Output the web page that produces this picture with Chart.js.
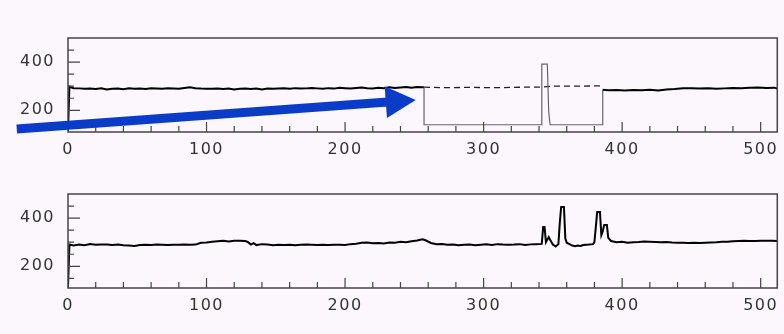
<!DOCTYPE html>
<html>
<head>
<meta charset="utf-8">
<script src="https://cdn.jsdelivr.net/npm/chart.js@4.4.1/dist/chart.umd.min.js"></script>
<style>
  html, body { margin: 0; padding: 0; background: #fcf7fc; }
  .panel { position: absolute; left: 0; width: 784px; height: 167px; }
</style>
</head>
<body>
<div class="panel" style="top:0"><canvas id="grafico_cima" width="784" height="167"></canvas></div>
<div class="panel" style="top:167px"><canvas id="grafico_baixo" width="784" height="167"></canvas></div>
<script>
// eixo x: canais 0..512, eixo y: contagens
const xTicks = [0, 100, 200, 300, 400, 500];
const yTicks = [200, 400];

// painel de cima - sinal com o "buraco" entre 257 e 386
const topX = [0, 1, 4, 8, 12, 16, 20, 24, 28, 32, 36, 40, 44, 48, 52, 56, 60, 64, 68, 72, 76, 80, 84, 88, 92, 96,
  100, 104, 108, 112, 116, 120, 124, 128, 132, 136, 140, 144, 148, 152, 156, 160, 164, 168, 172, 176, 180, 184, 188, 192, 196,
  200, 204, 208, 212, 216, 220, 224, 228, 232, 236, 240, 244, 248, 252, 256, 257, 257, 300, 342, 342, 346, 347, 348, 386, 386,
  390, 396, 402, 408, 414, 420, 426, 432, 438, 444, 450, 456, 462, 468, 474, 480, 486, 492, 498, 504, 510, 512];
const topY = [112, 298, 292, 291, 289, 290, 288, 291, 286, 289, 290, 287, 291, 289, 290, 288, 291, 290, 289, 291, 290, 289, 293, 296, 292, 290,
  289, 289, 290, 288, 290, 286, 289, 290, 288, 290, 286, 290, 289, 290, 291, 289, 292, 290, 291, 293, 291, 289, 292, 290, 294,
  292, 290, 293, 295, 292, 291, 294, 292, 296, 293, 295, 297, 294, 297, 296, 296, 140, 140, 140, 392, 392, 195, 140, 140, 285,
  283, 284, 282, 284, 283, 285, 282, 286, 288, 292, 291, 290, 292, 289, 291, 293, 292, 294, 295, 293, 294, 290];

// linha tracejada (nivel esperado) dentro do buraco
const gapX = [257, 270, 290, 310, 330, 342, 350, 370, 386];
const gapY = [296, 294, 295, 294, 296, 296, 300, 300, 302];

// painel de baixo - sinal completo com os picos
const botX = [0, 1, 4, 8, 12, 16, 20, 24, 28, 32, 36, 40, 44, 48, 52, 56, 60, 64, 68, 72, 76, 80, 84, 88, 92, 96,
  100, 104, 108, 112, 116, 120, 124, 128, 130, 132, 134, 136, 140, 144, 148, 152, 156, 160, 164, 168, 172, 176, 180, 184, 188, 192, 196,
  200, 204, 208, 212, 216, 220, 224, 228, 232, 236, 240, 244, 248, 252, 256, 258, 262, 266, 270, 274, 278, 282, 286, 290, 294, 298,
  302, 306, 310, 314, 318, 322, 326, 330, 334, 338, 342, 343, 344, 345, 347, 348, 350, 352, 354, 355, 356, 358, 359, 360, 362, 364, 366, 368, 370,
  372, 376, 379, 380, 382, 384, 385, 386, 387, 389, 390, 392, 396, 400, 404, 408, 412, 416, 420, 424, 428, 432, 436, 440, 444, 448,
  452, 456, 460, 464, 468, 472, 476, 480, 484, 488, 492, 496, 500, 504, 508, 512];
const botY = [112, 290, 286, 290, 287, 292, 289, 290, 290, 288, 290, 287, 286, 284, 288, 289, 288, 290, 289, 288, 289, 289, 290, 289, 290, 298,
  299, 302, 304, 306, 303, 306, 306, 305, 300, 290, 296, 288, 292, 290, 287, 289, 288, 289, 287, 289, 290, 289, 288, 289, 288, 289, 289,
  288, 292, 294, 298, 299, 296, 297, 295, 299, 298, 302, 300, 304, 307, 312, 308, 297, 292, 293, 289, 290, 287, 289, 290, 287, 289,
  291, 288, 292, 290, 289, 290, 292, 288, 291, 292, 293, 363, 363, 300, 321, 310, 290, 282, 292, 380, 446, 446, 315, 298, 292, 286, 283, 286, 284,
  288, 290, 292, 300, 425, 425, 330, 345, 371, 371, 318, 305, 300, 302, 298, 300, 301, 303, 302, 301, 300, 301, 299, 298, 298, 297,
  298, 297, 298, 299, 300, 302, 302, 304, 305, 306, 305, 305, 306, 306, 306, 305];

const pontos = (xs, ys) => xs.map((x, i) => ({ x: x, y: ys[i] }));

// moldura + tracinhos para dentro, como no grafico original
const moldura = {
  id: 'moldura',
  beforeDraw(chart) {
    chart.ctx.letterSpacing = '1.5px';
  },
  afterDraw(chart) {
    const { ctx, chartArea: a, scales } = chart;
    ctx.save();
    ctx.letterSpacing = '0px';
    ctx.strokeStyle = '#444';
    ctx.lineWidth = 1.5;
    ctx.strokeRect(a.left, a.top, a.right - a.left, a.bottom - a.top);
    ctx.lineWidth = 1.2;
    ctx.beginPath();
    for (let v = 20; v <= 500; v += 20) {
      const px = scales.x.getPixelForValue(v);
      const len = v % 100 === 0 ? 10 : 6;
      ctx.moveTo(px, a.bottom);
      ctx.lineTo(px, a.bottom - len);
    }
    for (let v = 150; v <= 450; v += 50) {
      const py = scales.y.getPixelForValue(v);
      const len = v % 200 === 0 ? 12 : 6;
      ctx.moveTo(a.left, py);
      ctx.lineTo(a.left + len, py);
    }
    ctx.stroke();

    // seta azul (so no painel de cima)
    const seta = chart.options.plugins.moldura.seta;
    if (seta) {
      const x0 = scales.x.getPixelForValue(seta.de[0]), y0 = scales.y.getPixelForValue(seta.de[1]);
      const x1 = scales.x.getPixelForValue(seta.para[0]), y1 = scales.y.getPixelForValue(seta.para[1]);
      const ang = Math.atan2(y1 - y0, x1 - x0);
      const cab = 30, meia = 16;
      const bx = x1 - cab * Math.cos(ang), by = y1 - cab * Math.sin(ang);
      ctx.strokeStyle = '#0a3cc8';
      ctx.fillStyle = '#0a3cc8';
      ctx.lineWidth = 9;
      ctx.lineCap = 'butt';
      ctx.beginPath();
      ctx.moveTo(x0, y0);
      ctx.lineTo(bx + 2 * Math.cos(ang), by + 2 * Math.sin(ang));
      ctx.stroke();
      ctx.beginPath();
      ctx.moveTo(x1, y1);
      ctx.lineTo(bx + meia * Math.sin(ang), by - meia * Math.cos(ang));
      ctx.lineTo(bx - meia * Math.sin(ang), by + meia * Math.cos(ang));
      ctx.closePath();
      ctx.fill();
    }
    ctx.restore();
  }
};

function opcoes(padTop, xHeight, seta) {
  return {
    responsive: false,
    animation: false,
    layout: { padding: { top: padTop, right: 3, left: 0, bottom: 0 } },
    plugins: { legend: { display: false }, tooltip: { enabled: false }, moldura: { seta: seta } },
    elements: { point: { radius: 0 } },
    scales: {
      x: {
        type: 'linear', min: 0, max: 512,
        afterBuildTicks: s => { s.ticks = xTicks.map(v => ({ value: v })); },
        afterFit: s => { s.height = xHeight; },
        grid: { display: false, drawTicks: false },
        border: { display: false },
        ticks: { color: '#333', padding: 8, maxRotation: 0, font: { family: 'DejaVu Sans', size: 16 } }
      },
      y: {
        type: 'linear', min: 110, max: 500,
        afterBuildTicks: s => { s.ticks = yTicks.map(v => ({ value: v })); },
        afterFit: s => { s.width = 68; },
        grid: { display: false, drawTicks: false },
        border: { display: false },
        ticks: { color: '#333', padding: 13, font: { family: 'DejaVu Sans', size: 16 } }
      }
    }
  };
}

new Chart(document.getElementById('grafico_cima'), {
  type: 'line',
  data: {
    datasets: [{
      data: pontos(topX, topY),
      borderColor: '#000',
      borderWidth: 2,
      segment: {
        borderColor: c => (c.p0.parsed.x >= 257 && c.p1.parsed.x <= 386) ? '#666' : '#000',
        borderWidth: c => (c.p0.parsed.x >= 257 && c.p1.parsed.x <= 386) ? 1.2 : 2
      }
    }, {
      data: pontos(gapX, gapY),
      borderColor: '#222',
      borderWidth: 1.3,
      borderDash: [6, 4]
    }]
  },
  options: opcoes(38, 35, { de: [-37, 122], para: [251, 243] }),
  plugins: [moldura]
});

new Chart(document.getElementById('grafico_baixo'), {
  type: 'line',
  data: {
    datasets: [{
      data: pontos(botX, botY),
      borderColor: '#000',
      borderWidth: 2
    }]
  },
  options: opcoes(27, 46, null),
  plugins: [moldura]
});
</script>
</body>
</html>
